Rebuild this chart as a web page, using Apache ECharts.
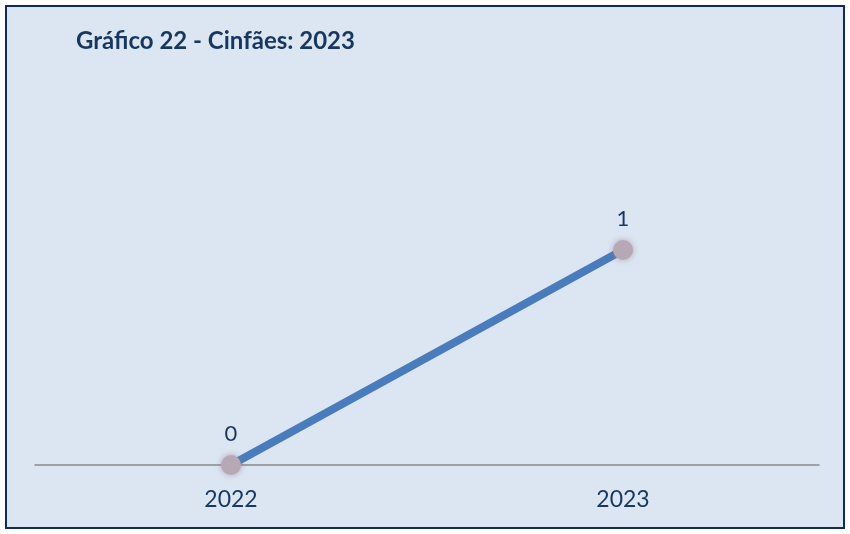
<!DOCTYPE html>
<html>
<head>
<meta charset="utf-8">
<script src="https://cdn.jsdelivr.net/npm/echarts@6/dist/echarts.min.js"></script>
<style>
  html, body { margin: 0; padding: 0; background: #ffffff; }
  #chart { width: 850px; height: 534px; }
</style>
</head>
<body>
<div id="chart"></div>
<script>
// Years on the category axis and the count for each year
const years = ['2022', '2023'];
const counts = [0, 1];
const titleText = 'Gráfico 22 - Cinfães: 2023';

const chart = echarts.init(document.getElementById('chart'));
chart.setOption({
  backgroundColor: '#ffffff',
  graphic: [{
    type: 'rect',
    shape: { x: 6, y: 6, width: 838, height: 522 },
    style: { fill: '#dce6f2', stroke: '#0f2a5c', lineWidth: 2 },
    z: -1
  }],
  title: {
    text: titleText,
    left: 76,
    top: 29,
    padding: 0,
    textStyle: { fontFamily: 'Lato', fontWeight: 'bold', fontSize: 24, color: '#17375e' }
  },
  grid: { left: 35, right: 31, top: 250, bottom: 69 },
  xAxis: {
    type: 'category',
    data: years,
    boundaryGap: true,
    axisLine: { lineStyle: { color: '#898989', width: 1.5 } },
    axisTick: { show: false },
    axisLabel: { fontFamily: 'Lato', fontSize: 23, color: '#17375e', margin: 23 }
  },
  yAxis: {
    type: 'value',
    min: 0,
    max: 1,
    show: false,
    splitLine: { show: false }
  },
  series: [{
    type: 'line',
    data: counts,
    lineStyle: { color: '#4a7bbd', width: 8 },
    symbol: 'circle',
    symbolSize: 20,
    itemStyle: { color: '#b8a8b6', shadowBlur: 6, shadowColor: 'rgba(150,120,150,0.6)' },
    label: {
      show: true,
      position: 'top',
      distance: 10,
      fontFamily: 'Lato',
      fontSize: 22,
      color: '#17375e'
    },
    z: 3
  }],
  animation: false
});
</script>
</body>
</html>
